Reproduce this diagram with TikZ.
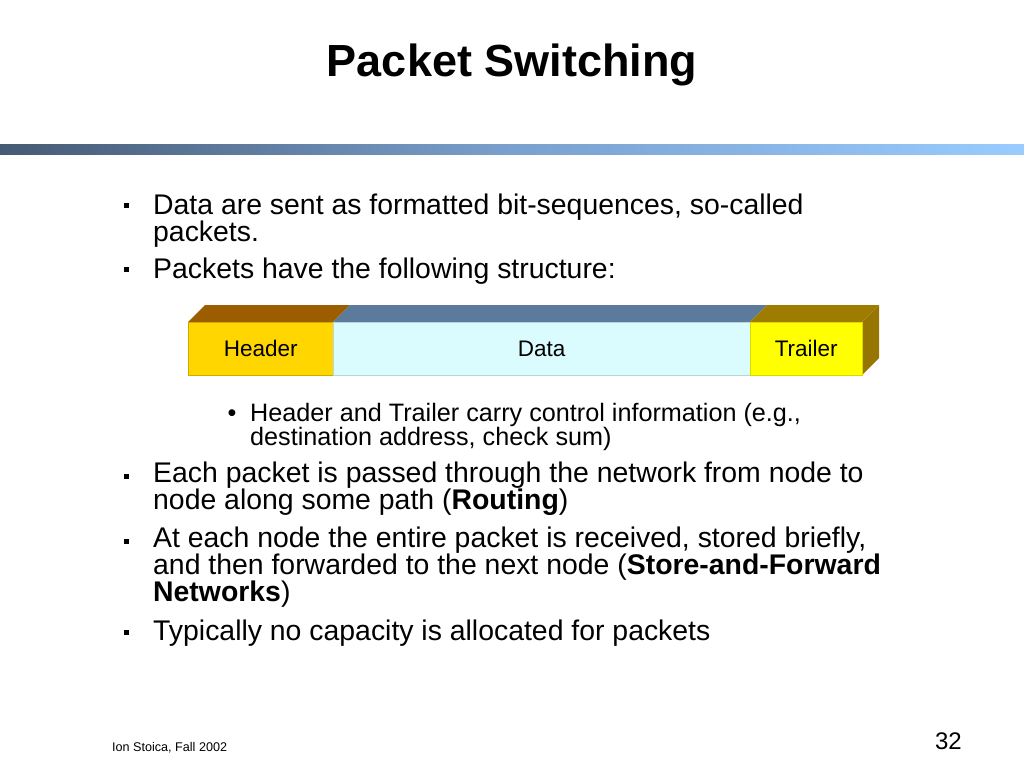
\documentclass[tikz,border=0pt]{standalone}
\usepackage{fontspec}
\setmainfont{Liberation Sans}
\usetikzlibrary{positioning}
\definecolor{barleft}{RGB}{70,90,115}
\definecolor{barmid}{RGB}{122,160,205}
\definecolor{barright}{RGB}{153,204,255}
\definecolor{hdrfront}{RGB}{255,214,0}
\definecolor{hdrtop}{RGB}{156,92,0}
\definecolor{datfront}{RGB}{218,252,255}
\definecolor{dattop}{RGB}{92,122,155}
\definecolor{trlfront}{RGB}{255,255,0}
\definecolor{trltop}{RGB}{158,124,0}
\definecolor{trlside}{RGB}{150,118,0}
\begin{document}
\begin{tikzpicture}[x=1pt, y=-1pt,
  bullettext/.style={anchor=base west, inner sep=0pt, align=left, font=\fontsize{28.4}{27}\selectfont},
  subtext/.style={anchor=base west, inner sep=0pt, align=left, font=\fontsize{25.2}{24}\selectfont},
  sqbullet/.style={fill=black, inner sep=0pt, minimum size=5pt},
  partlabel/.style={font=\fontsize{22.5}{22}\selectfont}]
\useasboundingbox[fill=white] (0,0) rectangle (1024,768); % page

\node[anchor=base, inner sep=0pt, font=\fontsize{45}{45}\selectfont\bfseries] (title) at (512,77) {Packet Switching}; % title
\shade[left color=barleft, right color=barright, middle color=barmid] (0,144) rectangle (1024,154); % title bar

% multi-line texts sit on the baseline of their last line
\node[sqbullet] (b1) at (126,205) {}; % bullet 1
\node[bullettext] (t1) at (153,241) {Data are sent as formatted bit-sequences, so-called\\packets.};
\node[sqbullet] (b2) at (126,269) {}; % bullet 2
\node[bullettext] (t2) at (153,278) {Packets have the following structure:};

% packet: top faces
\fill[hdrtop] (188,322) -- (205,305) -- (350,305) -- (333,322) -- cycle;
\fill[dattop] (333,322) -- (350,305) -- (767,305) -- (750,322) -- cycle;
\fill[trltop] (750,322) -- (767,305) -- (879,305) -- (862,322) -- cycle;
\fill[trlside] (862,322) -- (879,305) -- (879,358) -- (862,375) -- cycle; % side face
% packet: front faces
\node[partlabel, draw=hdrfront!80!black, fill=hdrfront, minimum width=145pt, minimum height=53pt, anchor=north west, inner sep=0pt] (header) at (188,322) {Header};
\node[partlabel, draw=datfront!85!black, fill=datfront, minimum width=417pt, minimum height=53pt, anchor=north west, inner sep=0pt] (data) at (333,322) {Data};
\node[partlabel, draw=trlfront!85!black, fill=trlfront, minimum width=112pt, minimum height=53pt, anchor=north west, inner sep=0pt] (trailer) at (750,322) {Trailer};

\node[subtext, anchor=base] (sb) at (232,421) {\textbullet}; % sub bullet
\node[subtext] (st) at (250,445) {Header and Trailer carry control information (e.g.,\\destination address, check sum)};

\node[sqbullet] (b3) at (126,476) {}; % bullet 3
\node[bullettext] (t3) at (153,509) {Each packet is passed through the network from node to\\node along some path (\textbf{Routing})};
\node[sqbullet] (b4) at (126,541) {}; % bullet 4
\node[bullettext] (t4) at (153,601) {At each node the entire packet is received, stored briefly,\\and then forwarded to the next node (\textbf{Store-and-Forward}\\\textbf{Networks})};
\node[sqbullet] (b5) at (126,632) {}; % bullet 5
\node[bullettext] (t5) at (153,640) {Typically no capacity is allocated for packets};

\node[anchor=base west, inner sep=0pt, font=\fontsize{12.6}{13}\selectfont] (foot) at (112,751) {Ion Stoica, Fall 2002}; % footer
\node[anchor=base east, inner sep=0pt, font=\fontsize{24}{24}\selectfont] (page) at (962,749) {32}; % slide number
\end{tikzpicture}
\end{document}
